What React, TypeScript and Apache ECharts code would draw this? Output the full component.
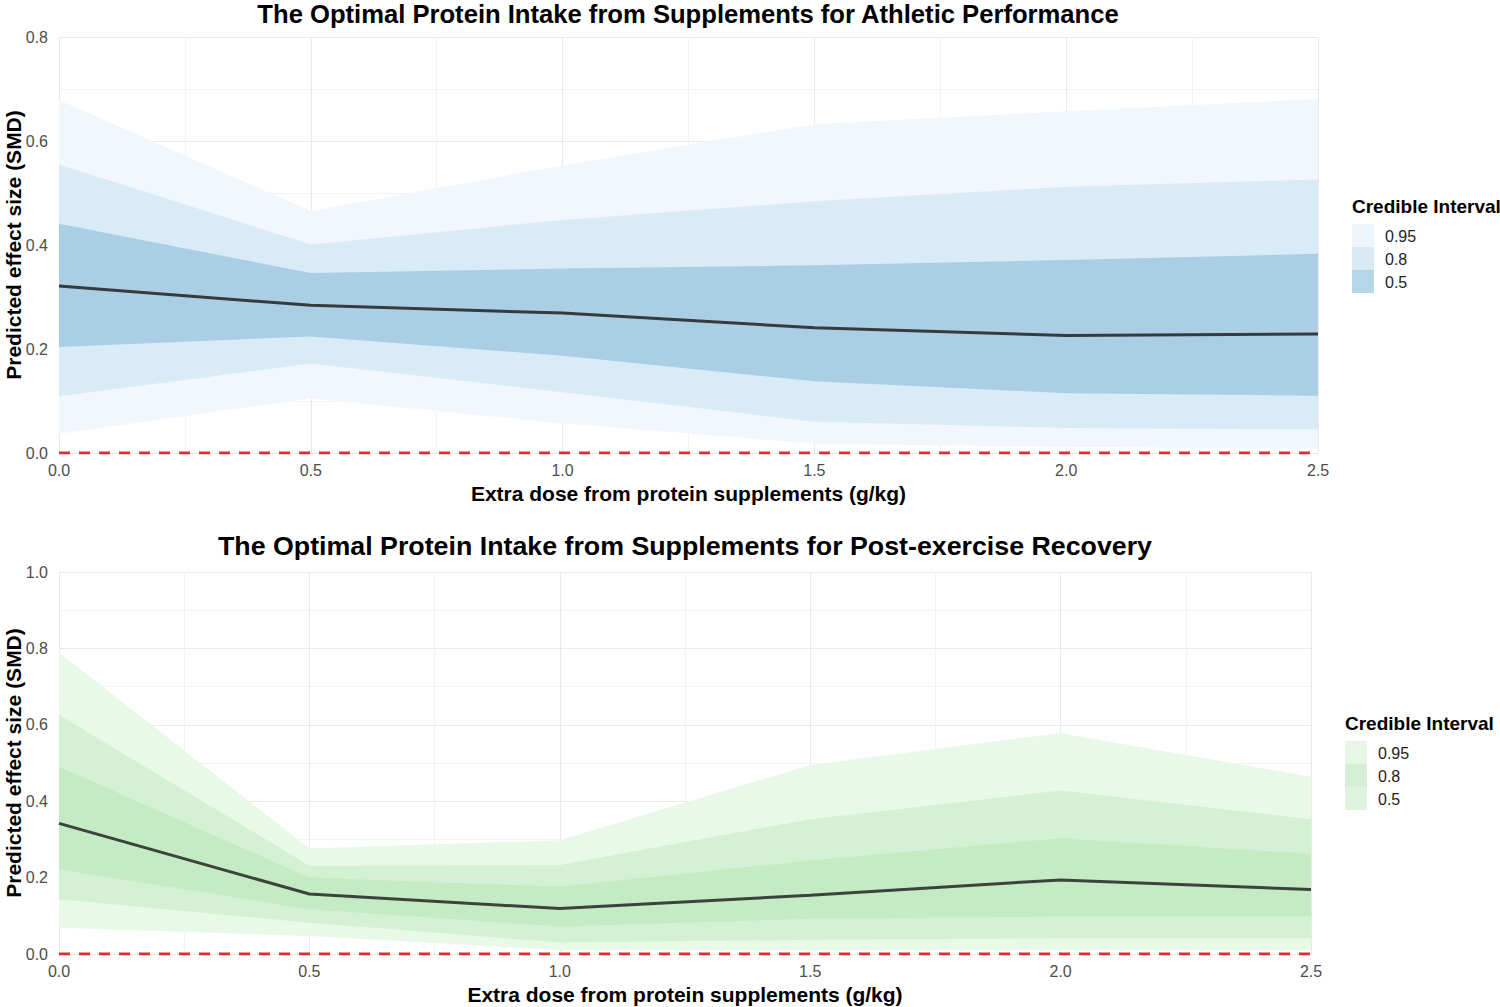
import { useEffect, useRef } from 'react'
import * as echarts from 'echarts'

// dose grid (g/kg)
const DOSES = [0, 0.5, 1.0, 1.5, 2.0, 2.5]

// athletic performance
const PERF_MEAN = [0.321, 0.284, 0.269, 0.241, 0.226, 0.229]
const PERF_LO50 = [0.204, 0.224, 0.187, 0.138, 0.115, 0.110]
const PERF_HI50 = [0.441, 0.346, 0.355, 0.361, 0.371, 0.383]
const PERF_LO80 = [0.109, 0.172, 0.117, 0.060, 0.048, 0.045]
const PERF_HI80 = [0.555, 0.401, 0.448, 0.484, 0.512, 0.526]
const PERF_LO95 = [0.037, 0.105, 0.057, 0.018, 0.012, 0.008]
const PERF_HI95 = [0.679, 0.465, 0.553, 0.632, 0.657, 0.681]

// post-exercise recovery
const REC_MEAN = [0.342, 0.157, 0.119, 0.154, 0.194, 0.169]
const REC_LO50 = [0.222, 0.117, 0.072, 0.092, 0.098, 0.098]
const REC_HI50 = [0.490, 0.200, 0.176, 0.245, 0.303, 0.262]
const REC_LO80 = [0.143, 0.082, 0.030, 0.037, 0.041, 0.042]
const REC_HI80 = [0.626, 0.231, 0.233, 0.353, 0.428, 0.353]
const REC_LO95 = [0.069, 0.047, 0.010, 0.009, 0.010, 0.009]
const REC_HI95 = [0.789, 0.276, 0.298, 0.495, 0.578, 0.464]

const LEGEND_LABELS = ['0.95', '0.8', '0.5']
const BLUE_BANDS = ['#f1f7fc', '#d9ebf6', '#aacfe5']
const BLUE_KEYS = ['#eef5fb', '#d9eaf5', '#b5d5e9']
const GREEN_BANDS = ['#e8f9e8', '#d4f1d4', '#c4ebc4']
const GREEN_KEYS = ['#e6f7e6', '#d4efd4', '#dff4df']

const TITLE_TOP = 'The Optimal Protein Intake from Supplements for Athletic Performance'
const TITLE_BOTTOM = 'The Optimal Protein Intake from Supplements for Post-exercise Recovery'
const X_NAME = 'Extra dose from protein supplements (g/kg)'
const Y_NAME = 'Predicted effect size (SMD)'

const FONT = '"Liberation Sans", Arial, sans-serif'

// one ribbon drawn as a polygon through the axis scales
function band(gi: number, lo: number[], hi: number[], color: string) {
  return {
    type: 'custom' as const,
    xAxisIndex: gi,
    yAxisIndex: gi,
    silent: true,
    clip: true,
    data: [[DOSES[0], lo[0]]],
    renderItem: (_p: any, api: any) => {
      const upper = DOSES.map((d, i) => api.coord([d, hi[i]]))
      const lower = DOSES.map((d, i) => api.coord([d, lo[i]])).reverse()
      return { type: 'polygon', shape: { points: [...upper, ...lower] }, style: { fill: color } }
    },
  }
}

function panelSeries(gi: number, mean: number[], bands: [number[], number[]][], colors: string[], lineColor: string) {
  return [
    band(gi, bands[0][0], bands[0][1], colors[0]),
    band(gi, bands[1][0], bands[1][1], colors[1]),
    band(gi, bands[2][0], bands[2][1], colors[2]),
    {
      type: 'line' as const,
      xAxisIndex: gi,
      yAxisIndex: gi,
      data: DOSES.map((d, i) => [d, mean[i]]),
      symbol: 'none',
      lineStyle: { color: lineColor, width: 3 },
    },
    {
      type: 'line' as const,
      xAxisIndex: gi,
      yAxisIndex: gi,
      data: [[DOSES[0], 0], [DOSES[DOSES.length - 1], 0]],
      symbol: 'none',
      lineStyle: { color: '#dc3030', width: 3, type: [11, 9] },
    },
  ]
}

function xAxis(gi: number) {
  return {
    type: 'value' as const,
    gridIndex: gi,
    min: 0,
    max: 2.5,
    interval: 0.5,
    name: X_NAME,
    nameLocation: 'middle' as const,
    nameGap: 30,
    nameTextStyle: { fontFamily: FONT, fontSize: 21, fontWeight: 'bold', color: '#000' },
    axisLine: { show: false },
    axisTick: { show: false },
    axisLabel: { color: '#4d4d4d', fontSize: 16, fontFamily: FONT, margin: 9, formatter: (v: number) => v.toFixed(1) },
    splitLine: { show: true, lineStyle: { color: '#e9e9e9', width: 1 } },
    minorTick: { show: false, splitNumber: 2 },
    minorSplitLine: { show: true, lineStyle: { color: '#f3f3f3', width: 1 } },
  }
}

function yAxis(gi: number, max: number) {
  return {
    type: 'value' as const,
    gridIndex: gi,
    min: 0,
    max,
    interval: 0.2,
    axisLine: { show: false },
    axisTick: { show: false },
    axisLabel: { color: '#4d4d4d', fontSize: 16, fontFamily: FONT, margin: 11, formatter: (v: number) => v.toFixed(1) },
    splitLine: { show: true, lineStyle: { color: '#e9e9e9', width: 1 } },
    minorTick: { show: false, splitNumber: 2 },
    minorSplitLine: { show: true, lineStyle: { color: '#f3f3f3', width: 1 } },
  }
}

function yName(cy: number) {
  return {
    type: 'text',
    x: 13,
    y: cy,
    rotation: Math.PI / 2,
    style: { text: Y_NAME, font: `bold 21px ${FONT}`, fill: '#000', textAlign: 'center', textVerticalAlign: 'middle' },
  }
}

function legend(x: number, y: number, keys: string[]) {
  const items: any[] = [
    {
      type: 'text',
      x,
      y,
      style: { text: 'Credible Interval', font: `bold 19px ${FONT}`, fill: '#000', textVerticalAlign: 'middle' },
    },
  ]
  LEGEND_LABELS.forEach((lab, i) => {
    const top = y + 18 + i * 23
    items.push({ type: 'rect', shape: { x, y: top, width: 22, height: 23 }, style: { fill: keys[i] } })
    items.push({
      type: 'text',
      x: x + 33,
      y: top + 12,
      style: { text: lab, font: `16px ${FONT}`, fill: '#222', textVerticalAlign: 'middle' },
    })
  })
  return items
}

export default function App() {
  const ref = useRef<HTMLDivElement>(null)

  useEffect(() => {
    if (!ref.current) return
    const chart = echarts.init(ref.current, null, { renderer: 'svg' })
    chart.setOption({
      animation: false,
      backgroundColor: '#ffffff',
      grid: [
        { left: 59, right: 182, top: 37, height: 416, outerBoundsMode: 'none', containLabel: false },
        { left: 59, right: 189, top: 572, height: 382, outerBoundsMode: 'none', containLabel: false },
      ],
      xAxis: [xAxis(0), xAxis(1)],
      yAxis: [yAxis(0, 0.8), yAxis(1, 1.0)],
      series: [
        ...panelSeries(0, PERF_MEAN, [[PERF_LO95, PERF_HI95], [PERF_LO80, PERF_HI80], [PERF_LO50, PERF_HI50]], BLUE_BANDS, '#353a3f'),
        ...panelSeries(1, REC_MEAN, [[REC_LO95, REC_HI95], [REC_LO80, REC_HI80], [REC_LO50, REC_HI50]], GREEN_BANDS, '#3b443b'),
      ],
      graphic: [
        {
          type: 'text',
          x: 688,
          y: 14,
          scaleX: 1.025,
          style: { text: TITLE_TOP, font: `bold 25px ${FONT}`, fill: '#000', textAlign: 'center', textVerticalAlign: 'middle' },
        },
        {
          type: 'text',
          x: 685,
          y: 546,
          scaleX: 1.03,
          style: { text: TITLE_BOTTOM, font: `bold 26px ${FONT}`, fill: '#000', textAlign: 'center', textVerticalAlign: 'middle' },
        },
        yName(245),
        yName(763),
        ...legend(1352, 206, BLUE_KEYS),
        ...legend(1345, 723, GREEN_KEYS),
      ],
    })
    return () => chart.dispose()
  }, [])

  return <div ref={ref} style={{ position: 'fixed', left: 0, top: 0, width: 1500, height: 1007 }} />
}
